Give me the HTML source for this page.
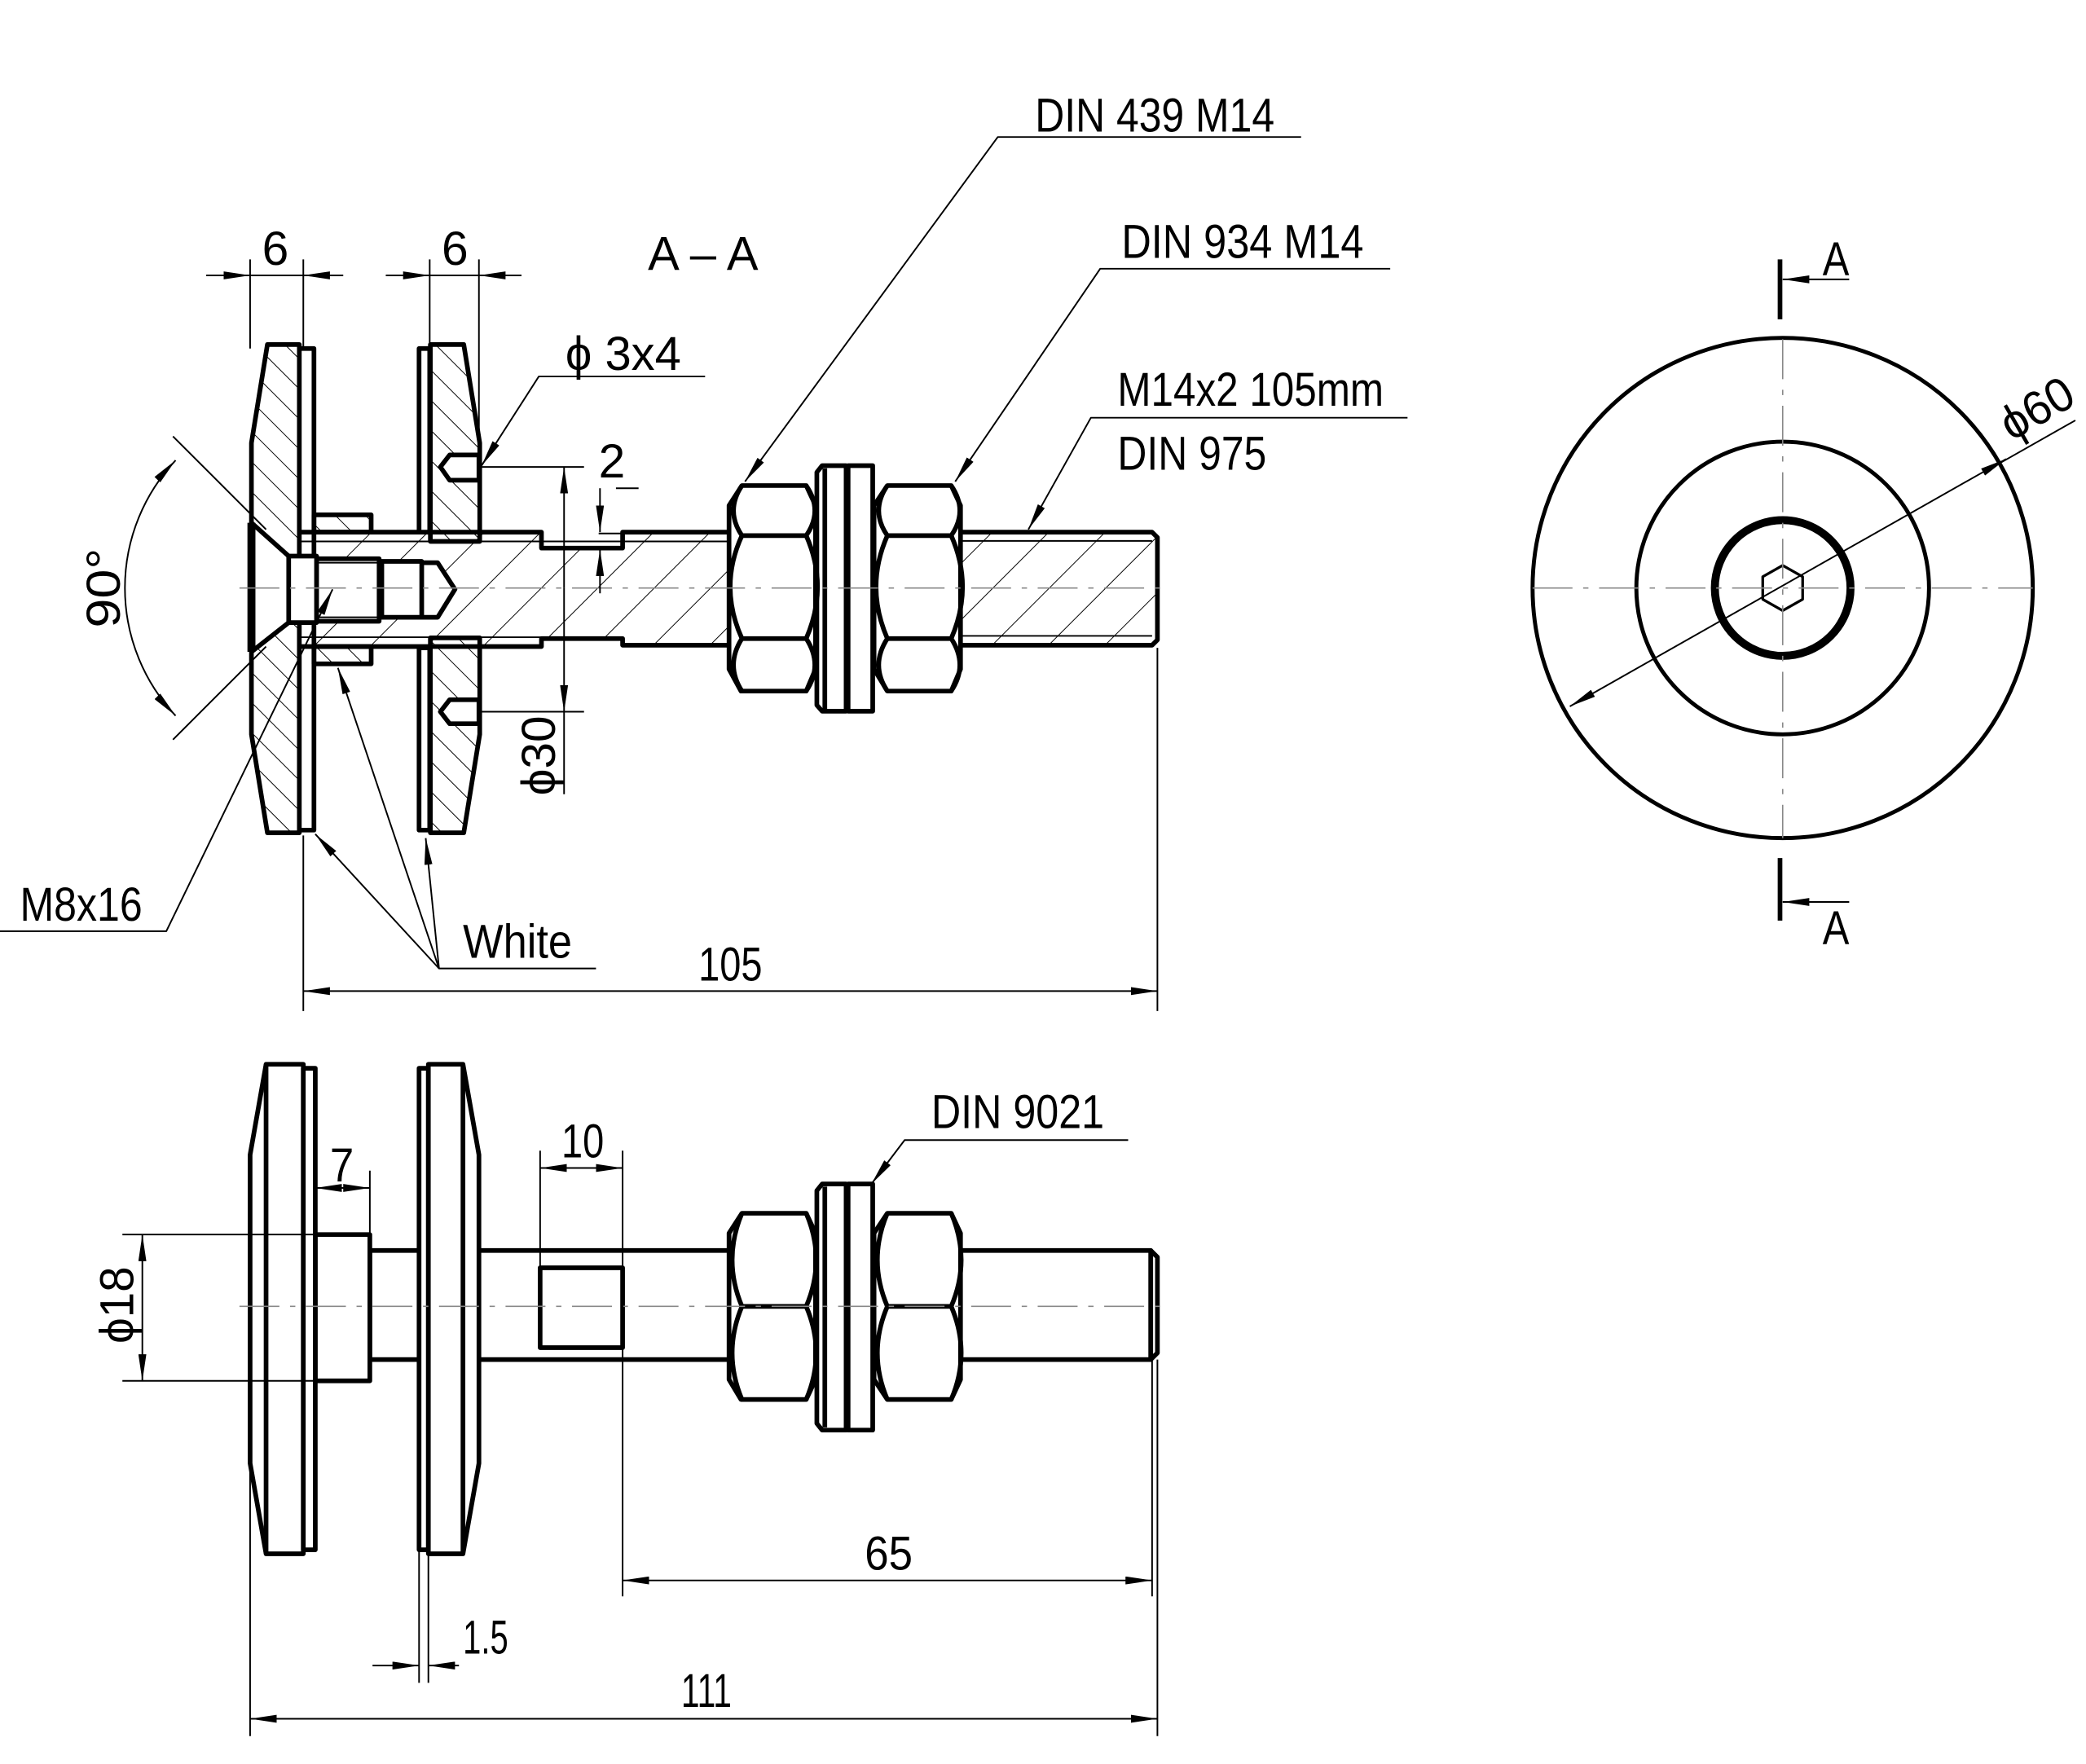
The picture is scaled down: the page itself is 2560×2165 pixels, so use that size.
<!DOCTYPE html>
<html><head><meta charset="utf-8"><style>html,body{margin:0;padding:0;background:#fff}svg{display:block}</style></head>
<body>
<svg xmlns="http://www.w3.org/2000/svg" width="2560" height="2165" viewBox="0 0 1568 1326" preserveAspectRatio="none">
<defs>
<pattern id="hb" patternUnits="userSpaceOnUse" width="16" height="16" patternTransform="rotate(-45)"><line x1="0" y1="0" x2="0" y2="16" stroke="#000" stroke-width="1.2"/></pattern>
<pattern id="hf" patternUnits="userSpaceOnUse" width="30" height="30" patternTransform="rotate(45)"><line x1="0" y1="0" x2="0" y2="30" stroke="#000" stroke-width="1.2"/></pattern>
<marker id="a" viewBox="0 0 20 6" refX="20" refY="3" markerWidth="20" markerHeight="6" markerUnits="userSpaceOnUse" orient="auto-start-reverse"><path d="M0,0 L20,3 L0,6 z" fill="#000"/></marker>
</defs>
<g fill="none" stroke="#000" stroke-linejoin="round">

<path d="M225,400 H407 V412 H468 V400 H866 L870,404 V481 L866,485 H468 V480 H407 V486 H225 Z" fill="url(#hf)" stroke="none"/>
<polygon points="201,259 225,259 225,626 201,626 189,552 189,333" fill="url(#hb)" stroke="none"/>
<polygon points="189,393 217,418 238,418 238,468 217,468 189,490" fill="#fff" stroke="none"/>
<polygon points="201,259 225,259 225,626 201,626 189,552 189,333" stroke-width="3.5"/>
<rect x="225" y="262" width="11" height="362" fill="#fff" stroke-width="3.5"/>
<line x1="189" y1="393" x2="189" y2="490" stroke-width="6"/>
<polyline points="189,393 217,418" stroke-width="3.5"/><polyline points="189,490 217,468" stroke-width="3.5"/>
<rect x="236" y="387" width="43" height="13" fill="url(#hb)" stroke-width="3.5"/>
<rect x="236" y="486" width="43" height="13" fill="url(#hb)" stroke-width="3.5"/>
<path d="M225,400 H407 V412 H468 V400 H548 M722,400 H866 L870,404 V481 L866,485 H722 M548,485 H468 V480 H407 V486 H225" stroke-width="3.5"/>
<line x1="225" y1="407" x2="548" y2="407" stroke-width="1.2"/><line x1="225" y1="479" x2="407" y2="479" stroke-width="1.2"/>
<line x1="722" y1="406.6" x2="866" y2="406.6" stroke-width="1.2"/><line x1="722" y1="478" x2="866" y2="478" stroke-width="1.2"/>
<rect x="217" y="418" width="21" height="50" fill="#fff" stroke-width="3.5"/>
<rect x="238" y="420" width="47" height="47" fill="#fff" stroke-width="3.5"/>
<line x1="238" y1="423" x2="285" y2="423" stroke-width="1.2"/><line x1="238" y1="464" x2="285" y2="464" stroke-width="1.2"/>
<path d="M285,422 H317 V464 H285 Z M317,423 H329 L342,443 L329,464 H317" fill="#fff" stroke-width="3.5"/>
<line x1="287" y1="422" x2="287" y2="465" stroke-width="3.5"/>
<polygon points="323.5,259 348.6,259 360.6,333 360.6,407 323.5,407" fill="url(#hb)" stroke-width="3.5"/>
<polygon points="323.5,479.5 360.6,479.5 360.6,552 348.6,626 323.5,626" fill="url(#hb)" stroke-width="3.5"/>
<rect x="315" y="262" width="8" height="138" fill="#fff" stroke-width="3.5"/>
<rect x="315" y="487" width="8" height="137" fill="#fff" stroke-width="3.5"/>
<path d="M360,342 H338 L331,351 L338,361 H360 Z" fill="#fff" stroke-width="3.5"/>
<path d="M360,526 H338 L331,535 L338,544 H360 Z" fill="#fff" stroke-width="3.5"/>
<g stroke-width="3.5" fill="#fff">
<polygon points="557.7,365 606,365 613,380 613,503 606,519.5 557,519.5 548,503 548,380"/>
<polygon points="667,365 715,365 722,380 722,503 715,519.5 667,519.5 657,503 657,380"/>
<polygon points="618,350 636,350 636,534.6 618,534.6 614,530 614,355"/>
<rect x="637.5" y="350" width="18.5" height="184.6"/>
</g>
<g stroke-width="3.5">
<line x1="557" y1="402.6" x2="606" y2="402.6"/><line x1="557" y1="480" x2="606" y2="480"/>
<path d="M557.7,365 Q545,384 557.7,402.6 Q540,441 557.7,480 Q545,500 557.7,519.5"/>
<path d="M606,365 Q619,384 606,402.6 Q623,441 606,480 Q619,500 606,519.5"/>
<line x1="667" y1="402.6" x2="715" y2="402.6"/><line x1="667" y1="480" x2="715" y2="480"/>
<path d="M667,365 Q654,384 667,402.6 Q650,441 667,480 Q654,500 667,519.5"/>
<path d="M715,365 Q728,384 715,402.6 Q732,441 715,480 Q728,500 715,519.5"/>
<line x1="620" y1="352" x2="620" y2="533"/>
</g>
<line x1="180" y1="442" x2="880" y2="442" stroke-width="1" stroke="#888" stroke-dasharray="30,8,4,8"/>

<g stroke-width="1.2">
<line x1="188" y1="195" x2="188" y2="262"/><line x1="228" y1="195" x2="228" y2="262"/>
<line x1="155" y1="207" x2="188" y2="207" marker-end="url(#a)"/><line x1="258" y1="207" x2="228" y2="207" marker-end="url(#a)"/>
<line x1="188" y1="207" x2="228" y2="207"/>
<line x1="323" y1="195" x2="323" y2="262"/><line x1="360" y1="195" x2="360" y2="330"/>
<line x1="290" y1="207" x2="323" y2="207" marker-end="url(#a)"/><line x1="392" y1="207" x2="360" y2="207" marker-end="url(#a)"/>
<line x1="323" y1="207" x2="360" y2="207"/>
<polyline points="530,283 405,283 362,350" marker-end="url(#a)"/>
<line x1="362" y1="351" x2="439" y2="351"/><line x1="362" y1="535" x2="439" y2="535"/>
<line x1="424" y1="442" x2="424" y2="351" marker-end="url(#a)"/><line x1="424" y1="442" x2="424" y2="535" marker-end="url(#a)"/><line x1="424" y1="535" x2="424" y2="597"/>
<line x1="463" y1="367" x2="480" y2="367"/><line x1="450" y1="401" x2="480" y2="401"/>
<line x1="451" y1="367" x2="451" y2="400" marker-end="url(#a)"/><line x1="451" y1="446" x2="451" y2="413" marker-end="url(#a)"/>
<polyline points="978,103 750,103 560,362" marker-end="url(#a)"/>
<polyline points="1045,202 827,202 718,362" marker-end="url(#a)"/>
<polyline points="1058,314 820,314 773,398" marker-end="url(#a)"/>
<line x1="130" y1="328" x2="200" y2="398"/><line x1="130" y1="556" x2="200" y2="486"/>
<path d="M132,346 A140,140 0 0 0 132,538" marker-start="url(#a)" marker-end="url(#a)"/>
<polyline points="0,700 125,700 250,443" marker-end="url(#a)"/>
<polyline points="448,728 330,728 237,627" marker-end="url(#a)"/>
<line x1="330" y1="728" x2="254" y2="502" marker-end="url(#a)"/>
<line x1="330" y1="728" x2="320" y2="630" marker-end="url(#a)"/>
<line x1="228" y1="628" x2="228" y2="760"/><line x1="870" y1="487" x2="870" y2="760"/>
<line x1="228" y1="745" x2="870" y2="745" marker-start="url(#a)" marker-end="url(#a)"/>
</g>

<circle cx="1340" cy="442" r="188" stroke-width="3"/>
<circle cx="1340" cy="442" r="110" stroke-width="3"/>
<circle cx="1340" cy="442" r="51" stroke-width="6"/>
<polygon points="1340,425 1355,433.5 1355,450.5 1340,459 1325,450.5 1325,433.5" stroke-width="2"/>
<g stroke="#888" stroke-width="1" stroke-dasharray="30,8,4,8">
<line x1="1152" y1="442" x2="1528" y2="442"/><line x1="1340" y1="255" x2="1340" y2="630"/>
</g>
<line x1="1338" y1="195" x2="1338" y2="240" stroke-width="3.5"/>
<line x1="1338" y1="645" x2="1338" y2="692" stroke-width="3.5"/>
<line x1="1390" y1="210" x2="1340" y2="210" stroke-width="1.2" marker-end="url(#a)"/>
<line x1="1390" y1="678" x2="1340" y2="678" stroke-width="1.2" marker-end="url(#a)"/>
<line x1="1180" y1="531" x2="1508" y2="345" stroke-width="1.2" marker-start="url(#a)" marker-end="url(#a)"/>
<line x1="1500" y1="350" x2="1560" y2="316" stroke-width="1.2"/>

<g stroke-width="3.5" fill="#fff">
<rect x="278" y="940" width="587" height="82"/>
<polygon points="865,940 870,945 870,1017 865,1022"/>
<rect x="237" y="928" width="41" height="110"/>
<polygon points="200,800 228,800 228,1168 200,1168 188,1100 188,868"/>
<rect x="228" y="803" width="9" height="362"/>
<rect x="315" y="803" width="7" height="362"/>
<polygon points="322,800 348,800 360,868 360,1100 348,1168 322,1168"/>
<rect x="406" y="953" width="62" height="60"/>
<polygon points="557.7,912 606,912 613,927 613,1037 606,1052 557,1052 548,1037 548,927"/>
<polygon points="667,912 715,912 722,927 722,1037 715,1052 667,1052 657,1037 657,927"/>
<polygon points="618,890 636,890 636,1075 618,1075 614,1070 614,895"/>
<rect x="637.5" y="890" width="18.5" height="185"/>
</g>
<g stroke-width="3.5">
<line x1="200" y1="800" x2="200" y2="1168"/><line x1="348" y1="800" x2="348" y2="1168"/>
<line x1="557" y1="982" x2="606" y2="982"/><line x1="667" y1="982" x2="715" y2="982"/>
<path d="M557.7,912 Q543,947 557.7,982 Q543,1017 557.7,1052"/>
<path d="M606,912 Q621,947 606,982 Q621,1017 606,1052"/>
<path d="M667,912 Q652,947 667,982 Q652,1017 667,1052"/>
<path d="M715,912 Q730,947 715,982 Q730,1017 715,1052"/>
<line x1="620" y1="892" x2="620" y2="1073"/>
</g>
<line x1="865" y1="946" x2="865" y2="1016" stroke-width="1.2"/>
<line x1="180" y1="982" x2="880" y2="982" stroke-width="1" stroke="#888" stroke-dasharray="30,8,4,8"/>
<g stroke-width="1.2">
<line x1="278" y1="880" x2="278" y2="928"/>
<line x1="237" y1="893" x2="278" y2="893" marker-start="url(#a)" marker-end="url(#a)"/>
<line x1="406" y1="865" x2="406" y2="953"/><line x1="468" y1="865" x2="468" y2="1200"/>
<line x1="406" y1="878" x2="468" y2="878" marker-start="url(#a)" marker-end="url(#a)"/>
<line x1="92" y1="928" x2="237" y2="928"/><line x1="92" y1="1038" x2="237" y2="1038"/>
<line x1="107" y1="928" x2="107" y2="1038" marker-start="url(#a)" marker-end="url(#a)"/>
<polyline points="848,857 680,857 655,890" marker-end="url(#a)"/>
<line x1="866" y1="1022" x2="866" y2="1200"/>
<line x1="468" y1="1188" x2="866" y2="1188" marker-start="url(#a)" marker-end="url(#a)"/>
<line x1="315" y1="1165" x2="315" y2="1265"/><line x1="322" y1="1165" x2="322" y2="1265"/>
<line x1="280" y1="1252" x2="315" y2="1252" marker-end="url(#a)"/>
<line x1="345" y1="1252" x2="322" y2="1252" marker-end="url(#a)"/>
<line x1="188" y1="1100" x2="188" y2="1305"/><line x1="870" y1="1022" x2="870" y2="1305"/>
<line x1="188" y1="1292" x2="870" y2="1292" marker-start="url(#a)" marker-end="url(#a)"/>
</g>
</g>

<g font-family="'Liberation Sans', sans-serif" font-size="36" fill="#000">
<text x="778" y="99" textLength="180" lengthAdjust="spacingAndGlyphs">DIN 439 M14</text>
<text x="843" y="194" textLength="182" lengthAdjust="spacingAndGlyphs">DIN 934 M14</text>
<text x="840" y="305" textLength="200" lengthAdjust="spacingAndGlyphs">M14x2 105mm</text>
<text x="840" y="353" textLength="112" lengthAdjust="spacingAndGlyphs">DIN 975</text>
<text x="487" y="203" textLength="83" lengthAdjust="spacingAndGlyphs">A – A</text>
<text x="197" y="199" textLength="20" lengthAdjust="spacingAndGlyphs">6</text>
<text x="332" y="199" textLength="20" lengthAdjust="spacingAndGlyphs">6</text>
<text x="425" y="278" textLength="87" lengthAdjust="spacingAndGlyphs">ϕ 3x4</text>
<text x="450" y="359" textLength="20" lengthAdjust="spacingAndGlyphs">2</text>
<text transform="translate(417,598) rotate(-90)" textLength="60" lengthAdjust="spacingAndGlyphs">ϕ30</text>
<text transform="translate(90,472) rotate(-90)" textLength="60" lengthAdjust="spacingAndGlyphs">90°</text>
<text x="15" y="692" textLength="92" lengthAdjust="spacingAndGlyphs">M8x16</text>
<text x="348" y="720" textLength="82" lengthAdjust="spacingAndGlyphs">White</text>
<text x="525" y="737" textLength="48" lengthAdjust="spacingAndGlyphs">105</text>
<text x="1370" y="207" textLength="20" lengthAdjust="spacingAndGlyphs">A</text>
<text x="1370" y="710" textLength="20" lengthAdjust="spacingAndGlyphs">A</text>
<text transform="translate(1512,332) rotate(-30)" textLength="58" lengthAdjust="spacingAndGlyphs">ϕ60</text>
<text x="248" y="888" textLength="18" lengthAdjust="spacingAndGlyphs">7</text>
<text x="422" y="870" textLength="32" lengthAdjust="spacingAndGlyphs">10</text>
<text transform="translate(100,1010) rotate(-90)" textLength="58" lengthAdjust="spacingAndGlyphs">ϕ18</text>
<text x="700" y="848" textLength="130" lengthAdjust="spacingAndGlyphs">DIN 9021</text>
<text x="650" y="1180" textLength="36" lengthAdjust="spacingAndGlyphs">65</text>
<text x="348" y="1243" textLength="34" lengthAdjust="spacingAndGlyphs">1.5</text>
<text x="512" y="1283" textLength="38" lengthAdjust="spacingAndGlyphs">111</text>
</g>
</svg>
</body></html>
